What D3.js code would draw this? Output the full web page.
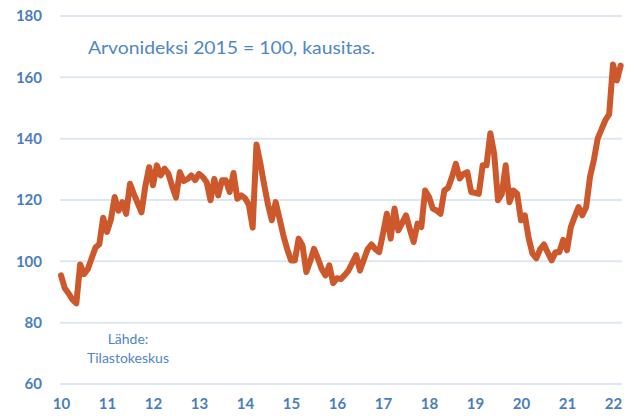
<!DOCTYPE html>
<html>
<head>
<meta charset="utf-8">
<script src="https://cdn.jsdelivr.net/npm/d3@7"></script>
<style>
  body { margin: 0; background: #fff; }
  text { font-family: Lato, "Open Sans", sans-serif; }
</style>
</head>
<body>
<div id="chart"></div>
<script>
// monthly index values, Jan 2010 -> Mar 2022
var values = [
  95.4, 91.2, 89.5, 87.5, 86.3, 99.0, 95.8, 97.5, 101.0, 104.5, 105.6, 114.2,
  109.6, 113.5, 121.0, 116.5, 119.3, 115.5, 125.3, 122.0, 119.0, 116.0, 124.5, 130.7,
  124.8, 131.3, 128.0, 130.2, 128.6, 124.5, 120.8, 129.1, 126.2, 126.8, 128.0, 126.5,
  128.5, 127.5, 125.8, 119.9, 126.9, 121.5, 126.4, 126.4, 122.6, 128.8, 120.4, 121.5,
  120.6, 118.5, 111.0, 138.1, 132.0, 125.0, 118.5, 113.4, 119.3, 114.0, 108.5, 104.0,
  100.3, 100.3, 107.4, 105.2, 96.5, 100.0, 104.1, 101.0, 97.5, 95.4, 98.7, 92.9,
  94.5, 94.2, 95.5, 97.0, 99.5, 102.0, 97.0, 100.5, 104.0, 105.5, 104.0, 103.0,
  109.0, 115.5, 107.4, 117.2, 110.1, 112.5, 115.0, 110.5, 106.3, 112.3, 111.2, 123.1,
  121.0, 117.2, 116.6, 115.5, 123.1, 124.0, 127.5, 131.8, 127.0, 128.5, 129.1, 122.6,
  122.3, 122.0, 131.3, 131.3, 141.8, 135.1, 119.9, 122.0, 131.3, 119.3, 123.1, 122.0,
  113.4, 115.0, 107.5, 102.5, 101.0, 104.0, 105.5, 102.8, 100.3, 103.0, 103.0, 107.0,
  103.6, 111.2, 114.5, 117.7, 115.0, 117.7, 127.5, 133.0, 140.0, 143.0, 146.0, 148.0,
  164.2, 159.0, 163.8
];
var yearLabels = ["10", "11", "12", "13", "14", "15", "16", "17", "18", "19", "20", "21", "22"];
var yTicks = [60, 80, 100, 120, 140, 160, 180];

var svgWidth = 636;
var svgHeight = 419;
var blue = "#4a7ebb";

var svg = d3.select("#chart")
  .append("svg")
  .attr("width", svgWidth)
  .attr("height", svgHeight);

var xScale = d3.scaleLinear()
  .domain([0, 144])
  .range([61, 613]);

var yScale = d3.scaleLinear()
  .domain([60, 180])
  .range([384, 16]);

// gridlines
svg.append("g")
  .selectAll("line")
  .data(yTicks)
  .enter()
  .append("line")
  .attr("x1", 60)
  .attr("x2", 622)
  .attr("y1", d => yScale(d))
  .attr("y2", d => yScale(d))
  .attr("stroke", "#dde7f3")
  .attr("stroke-width", 2);

// y axis labels
var leftAxis = d3.axisLeft(yScale).tickValues(yTicks).tickSize(0).tickPadding(0);
svg.append("g")
  .attr("transform", "translate(42,0)")
  .call(leftAxis)
  .call(g => g.select(".domain").remove())
  .selectAll("text")
  .attr("fill", blue)
  .attr("font-size", "15px")
  .attr("font-weight", "bold")
  .attr("font-family", "Lato, sans-serif");

// x axis labels (one per January)
var bottomAxis = d3.axisBottom(xScale)
  .tickValues(yearLabels.map((d, i) => i * 12))
  .tickFormat((d, i) => yearLabels[i])
  .tickSize(0)
  .tickPadding(0);
svg.append("g")
  .attr("transform", "translate(0,398)")
  .call(bottomAxis)
  .call(g => g.select(".domain").remove())
  .selectAll("text")
  .attr("fill", blue)
  .attr("font-size", "15px")
  .attr("font-weight", "bold")
  .attr("font-family", "Lato, sans-serif");

// the line
var line = d3.line()
  .x((d, i) => xScale(i))
  .y(d => yScale(d));

svg.append("path")
  .datum(values)
  .attr("d", line)
  .attr("fill", "none")
  .attr("stroke", "#cd582b")
  .attr("stroke-width", 6)
  .attr("stroke-linejoin", "round")
  .attr("stroke-linecap", "round");

// texts
svg.append("text")
  .attr("x", 88)
  .attr("y", 54)
  .attr("fill", "#4f86c6")
  .attr("font-size", "18px")
  .attr("textLength", 287)
  .attr("lengthAdjust", "spacingAndGlyphs")
  .text("Arvonideksi 2015 = 100, kausitas.");

svg.append("text")
  .attr("x", 128)
  .attr("y", 344)
  .attr("text-anchor", "middle")
  .attr("fill", "#4f86c6")
  .attr("font-size", "14px")
  .text("Lähde:");

svg.append("text")
  .attr("x", 128)
  .attr("y", 363)
  .attr("text-anchor", "middle")
  .attr("fill", "#4f86c6")
  .attr("font-size", "14px")
  .text("Tilastokeskus");
</script>
</body>
</html>
